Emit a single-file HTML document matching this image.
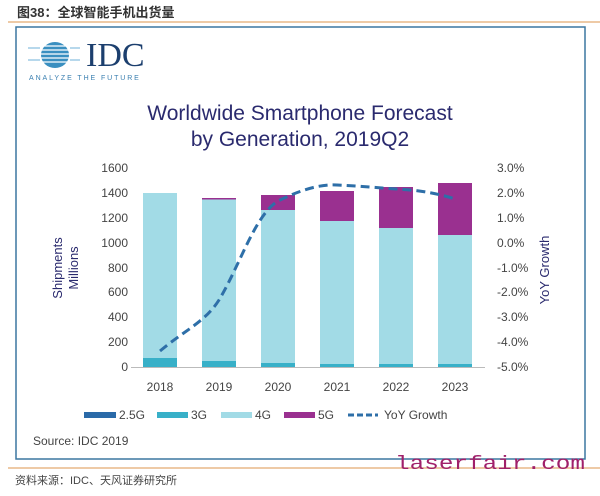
<!DOCTYPE html>
<html><head><meta charset="utf-8"><style>
body{margin:0;background:#fff;width:600px;height:496px;overflow:hidden}
svg{display:block}
text{font-family:"Liberation Sans","Noto Sans CJK SC",sans-serif}
</style></head><body>
<svg width="600" height="496" viewBox="0 0 600 496">
<text x="17" y="17" font-size="13" font-weight="bold" fill="#333">图38：全球智能手机出货量</text>
<line x1="8" y1="22" x2="600" y2="22" stroke="#e8b888" stroke-width="1.5"/>
<rect x="16" y="27" width="569" height="432" fill="#fff" stroke="#3b77a0" stroke-width="1.5"/>
<g fill="#3a8fc0">
<ellipse cx="55" cy="55" rx="14" ry="13"/>
</g>
<g stroke="#fff" stroke-width="1.2">
<line x1="28" y1="46" x2="82" y2="46"/><line x1="28" y1="50" x2="82" y2="50"/><line x1="28" y1="54" x2="82" y2="54"/><line x1="28" y1="58" x2="82" y2="58"/><line x1="28" y1="62" x2="82" y2="62"/>
</g>
<g stroke="#6fb0d8" stroke-width="1">
<line x1="28" y1="48" x2="40" y2="48"/><line x1="70" y1="48" x2="80" y2="48"/><line x1="28" y1="60" x2="40" y2="60"/><line x1="70" y1="60" x2="80" y2="60"/>
</g>
<text x="86" y="66" font-size="34" fill="#1c3f6e" style="font-family:'Liberation Serif',serif">IDC</text>
<text x="29" y="80" font-size="7" fill="#3a7fb0" letter-spacing="1.9">ANALYZE THE FUTURE</text>
<text x="300" y="120" font-size="21" fill="#2a2a6e" text-anchor="middle">Worldwide Smartphone Forecast</text>
<text x="300" y="146" font-size="21" fill="#2a2a6e" text-anchor="middle">by Generation, 2019Q2</text>
<g font-size="12" fill="#444" text-anchor="end">
<text x="128" y="172">1600</text><text x="128" y="197">1400</text><text x="128" y="222">1200</text><text x="128" y="247">1000</text><text x="128" y="272">800</text><text x="128" y="296">600</text><text x="128" y="321">400</text><text x="128" y="346">200</text><text x="128" y="371">0</text>
</g>
<g font-size="12" fill="#444">
<text x="497" y="172">3.0%</text><text x="497" y="197">2.0%</text><text x="497" y="222">1.0%</text><text x="497" y="247">0.0%</text><text x="497" y="272">-1.0%</text><text x="497" y="296">-2.0%</text><text x="497" y="321">-3.0%</text><text x="497" y="346">-4.0%</text><text x="497" y="371">-5.0%</text>
</g>
<text transform="translate(62,268) rotate(-90)" font-size="13" fill="#2a2a6e" text-anchor="middle">Shipments</text>
<text transform="translate(78,268) rotate(-90)" font-size="13" fill="#2a2a6e" text-anchor="middle">Millions</text>
<text transform="translate(549,270) rotate(-90)" font-size="13" fill="#2a2a6e" text-anchor="middle">YoY Growth</text>
<g>
<rect x="143" y="193" width="34" height="165" fill="#a2dbe6"/><rect x="143" y="358" width="34" height="9" fill="#38b0c8"/>
<rect x="202" y="199" width="34" height="162" fill="#a2dbe6"/><rect x="202" y="198" width="34" height="1.5" fill="#9a3090"/><rect x="202" y="361" width="34" height="6" fill="#38b0c8"/>
<rect x="261" y="210" width="34" height="153" fill="#a2dbe6"/><rect x="261" y="195" width="34" height="15" fill="#9a3090"/><rect x="261" y="363" width="34" height="4" fill="#38b0c8"/>
<rect x="320" y="221" width="34" height="143" fill="#a2dbe6"/><rect x="320" y="191" width="34" height="30" fill="#9a3090"/><rect x="320" y="364" width="34" height="3" fill="#38b0c8"/>
<rect x="379" y="228" width="34" height="136" fill="#a2dbe6"/><rect x="379" y="187" width="34" height="41" fill="#9a3090"/><rect x="379" y="364" width="34" height="3" fill="#38b0c8"/>
<rect x="438" y="235" width="34" height="129" fill="#a2dbe6"/><rect x="438" y="183" width="34" height="52" fill="#9a3090"/><rect x="438" y="364" width="34" height="3" fill="#38b0c8"/>
</g>
<line x1="131" y1="367.5" x2="485" y2="367.5" stroke="#bbb" stroke-width="1"/>
<path d="M160,351 C185,330 205,322 219,300 C240,265 255,215 278,201 C300,190 320,184 337,185 C360,186 380,188 396,189 C420,190 440,194 455,199" fill="none" stroke="#2e6fa8" stroke-width="3" stroke-dasharray="9,5"/>
<g font-size="12" fill="#444" text-anchor="middle">
<text x="160" y="391">2018</text><text x="219" y="391">2019</text><text x="278" y="391">2020</text><text x="337" y="391">2021</text><text x="396" y="391">2022</text><text x="455" y="391">2023</text>
</g>
<rect x="84" y="412" width="32" height="6" fill="#2a6aa8"/><text x="119" y="419" font-size="12" fill="#444">2.5G</text>
<rect x="157" y="412" width="31" height="6" fill="#38b0c8"/><text x="191" y="419" font-size="12" fill="#444">3G</text>
<rect x="221" y="412" width="31" height="6" fill="#a2dbe6"/><text x="255" y="419" font-size="12" fill="#444">4G</text>
<rect x="284" y="412" width="31" height="6" fill="#9a3090"/><text x="318" y="419" font-size="12" fill="#444">5G</text>
<line x1="348" y1="415" x2="378" y2="415" stroke="#2e6fa8" stroke-width="3" stroke-dasharray="6,3"/><text x="384" y="419" font-size="12" fill="#444">YoY Growth</text>
<text x="33" y="445" font-size="12" fill="#444">Source: IDC 2019</text>
<line x1="8" y1="468" x2="600" y2="468" stroke="#e8b888" stroke-width="1.5"/>
<text x="395" y="469" font-size="19" fill="#a0206a" textLength="190" lengthAdjust="spacingAndGlyphs" style="font-family:'Liberation Mono',monospace">laserfair.com</text>
<text x="15" y="484" font-size="11" fill="#444">资料来源：IDC、天风证券研究所</text>
</svg>
</body></html>
